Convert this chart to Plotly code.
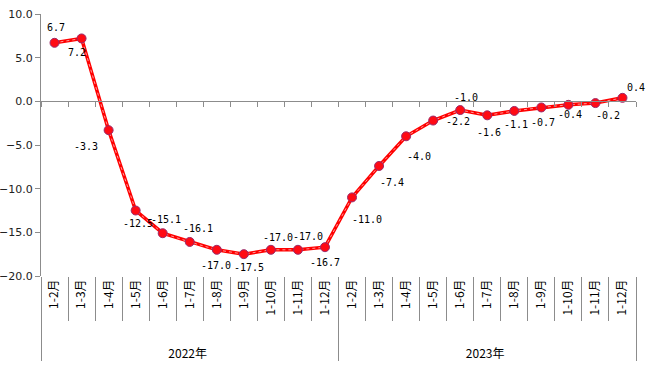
import plotly.graph_objects as go

years = ["2022年"] * 11 + ["2023年"] * 11
months = ["1-2月", "1-3月", "1-4月", "1-5月", "1-6月", "1-7月", "1-8月",
          "1-9月", "1-10月", "1-11月", "1-12月"] * 2
values = [6.7, 7.2, -3.3, -12.5, -15.1, -16.1, -17.0, -17.5, -17.0, -17.0, -16.7,
          -11.0, -7.4, -4.0, -2.2, -1.0, -1.6, -1.1, -0.7, -0.4, -0.2, 0.4]
y_ticks = [10, 5, 0, -5, -10, -15, -20]

# label offsets in pixels (style only)
label_dx = [1, -5, -23, 2, 3, 8, -1, 5, 7, 10, 0, 15, 13, 13, 25, 6, 2, 2, 2, 2, 13, 14]
label_dy = [15, -14, -16, -13, 14, 13, -16, -13, 12, 13, -15, -22, -17, -20, -1, 13, -17, -14, -15, -10, -12, 10]

pad = "\u00a0" * 7  # spacing below the rotated month labels
x = [years, [pad + m for m in months]]
idx = list(range(len(values)))
n = len(values)

fig = go.Figure()
fig.add_trace(go.Scatter(x=x, y=values, mode="lines",
                         line=dict(color="#ff0000", width=3.5),
                         hoverinfo="skip", showlegend=False))
fig.add_trace(go.Scatter(x=x, y=values, mode="lines+markers",
                         line=dict(color="rgba(255,255,255,0.6)", width=1, dash="dot"),
                         marker=dict(color="#ff0a14", size=9,
                                     line=dict(color="#9a2a6a", width=1)),
                         showlegend=False))
# invisible trace to activate the zero-line axis
fig.add_trace(go.Scatter(x=idx, y=values, xaxis="x2", mode="lines",
                         opacity=0, hoverinfo="skip", showlegend=False))

for i, v in enumerate(values):
    fig.add_annotation(x=i, y=v, xref="x2", yref="y", text=f"{v:.1f}",
                       showarrow=False, xshift=label_dx[i], yshift=label_dy[i],
                       font=dict(family="DejaVu Sans Mono", size=10, color="#000000"))

fig.update_layout(
    width=652, height=383,
    margin=dict(l=41, r=16, t=14, b=107),
    paper_bgcolor="white", plot_bgcolor="white",
    xaxis=dict(type="multicategory", range=[-0.5, n - 0.5], autorange=False,
               showdividers=True, dividercolor="#8c8c8c",
               dividerwidth=1, ticks="outside", tickson="boundaries", ticklen=44,
               tickcolor="#8c8c8c", tickangle=-90, showline=False, showgrid=False,
               zeroline=False, automargin=False,
               tickfont=dict(family="Noto Sans CJK SC", size=12, color="#000000")),
    xaxis2=dict(overlaying="x", anchor="free", position=2 / 3,
                range=[-0.5, n - 0.5], autorange=False,
                tickmode="linear", tick0=-0.5, dtick=1, ticks="outside", ticklen=5,
                tickcolor="#8c8c8c", showticklabels=False, showline=True,
                linecolor="#8c8c8c", linewidth=1, showgrid=False, zeroline=False,
                automargin=False),
    yaxis=dict(range=[-20, 10], autorange=False, tickvals=y_ticks, tickformat=".1f",
               ticks="outside", ticklen=5, tickcolor="#8c8c8c",
               showline=True, linecolor="#8c8c8c", linewidth=1,
               showgrid=False, zeroline=False, automargin=False,
               ticklabeloverflow="allow",
               tickfont=dict(family="DejaVu Sans", size=11, color="#222222")),
)

fig.write_html("out.html", config={"displayModeBar": False},
               post_script="document.body.style.margin='0';")
